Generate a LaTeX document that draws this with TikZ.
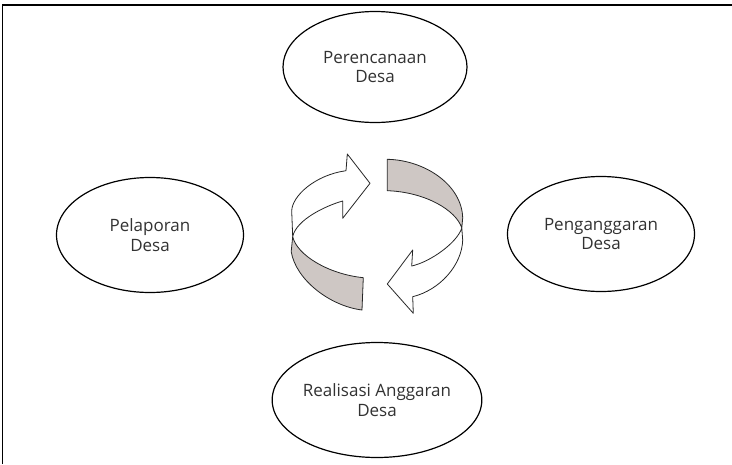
\documentclass[tikz,border=0pt]{standalone}
\usepackage{fontspec}
\setmainfont{Open Sans}
\usetikzlibrary{shapes.geometric}
\definecolor{bandgray}{RGB}{206,199,196}
\definecolor{inkgray}{RGB}{50,50,50}
\tikzset{
  stage/.style={ellipse, draw=black, line width=1.2pt, fill=white,
    inner sep=0pt, align=center, text=inkgray,
    font=\fontsize{17}{19.5}\selectfont},
  band/.style={draw=black!85, line width=0.8pt, line join=round},
  frameline/.style={draw=black, line width=1.4pt}
}
\begin{document}
\begin{tikzpicture}[x=1pt, y=-1pt]
\useasboundingbox (0,0) rectangle (732,464);

% open frame: top and left rules only
\coordinate (fbl) at (2.7,464);
\coordinate (ftl) at (2.7,5);
\coordinate (ftr) at (732,5);
\draw[frameline] (fbl) -- (ftl) -- (ftr);

% the four stages of the village budget cycle
\node[stage, minimum width=184pt, minimum height=111pt] (plan) at (375,67)
  {Perencanaan\\Desa};
\node[stage, minimum width=187pt, minimum height=115pt] (budget) at (601,234)
  {Penganggaran\\Desa};
\node[stage, minimum width=189pt, minimum height=115pt] (real) at (377,400)
  {Realisasi Anggaran\\Desa};
\node[stage, minimum width=187pt, minimum height=115pt] (report) at (150,235)
  {Pelaporan\\Desa};

% circular ribbon arrows in the middle
% left ribbon: white upper part ending in a head pointing right
\draw[band, fill=white]
  (346,170.7) -- (347.3,154) -- (370,183.3) -- (342.7,218.3) -- (342.7,201)
  .. controls (325,206) and (296,220) .. (292.7,236.7)
  -- (291.7,211)
  .. controls (292,196) and (315,175) .. (346,170.7) -- cycle;
% left ribbon: shaded lower part with a straight cut
\draw[band, fill=bandgray]
  (292.7,236.7) .. controls (297,255) and (328,274) .. (363.3,277.7)
  -- (362,310)
  .. controls (330,306) and (296,280) .. (291.2,251.7)
  -- cycle;
% right ribbon: shaded upper part with a straight cut
\draw[band, fill=bandgray]
  (387.3,159.3) .. controls (425,160) and (462,185) .. (462.7,218)
  -- (461.8,228)
  .. controls (456,210) and (425,192) .. (387.3,190.7)
  -- cycle;
% right ribbon: white lower part ending in a head pointing left
\draw[band, fill=white]
  (461.8,228) .. controls (457,243) and (430,262) .. (411.7,266)
  -- (412.7,250) -- (387.3,284) -- (413.3,313.3) -- (412.7,296.7)
  .. controls (440,290) and (462,265) .. (462.7,240)
  -- cycle;
\end{tikzpicture}
\end{document}
